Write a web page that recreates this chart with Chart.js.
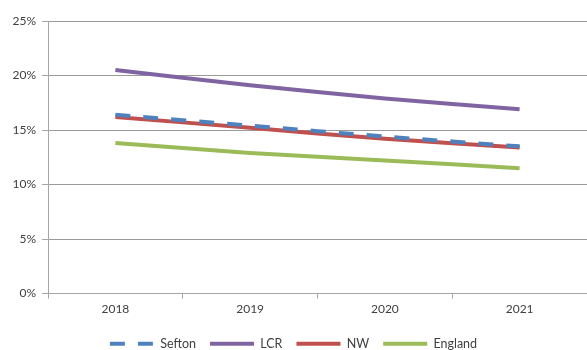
<!DOCTYPE html>
<html>
<head>
<meta charset="utf-8">
<script src="https://cdn.jsdelivr.net/npm/chart.js@4/dist/chart.umd.min.js"></script>
<style>
  html, body { margin: 0; padding: 0; background: #fff; overflow: hidden; }
  #wrap { width: 587px; height: 350px; position: relative; }
</style>
</head>
<body>
<div id="wrap"><canvas id="c" width="587" height="350"></canvas></div>
<script>
// Years on the x axis
const years = ['2018', '2019', '2020', '2021'];
// Share of population (%), by area
const sefton  = [16.4, 15.4, 14.4, 13.5];
const lcr     = [20.5, 19.1, 17.9, 16.9];
const nw      = [16.2, 15.2, 14.2, 13.4];
const england = [13.8, 12.9, 12.2, 11.5];
// Y axis range and step (%)
const yMin = 0, yMax = 25, yStep = 5;

const FONT = 'Lato, "Open Sans", "Liberation Sans", sans-serif';
const AXIS = '#a6a6a6';

function series(label, data, color, dash) {
  return {
    label, data,
    borderColor: color,
    backgroundColor: color,
    borderWidth: 4,
    borderDash: dash || [],
    borderCapStyle: 'butt',
    pointRadius: 0,
    pointHoverRadius: 0,
    tension: 0.3,
    fill: false
  };
}

new Chart(document.getElementById('c'), {
  type: 'line',
  data: {
    labels: years,
    datasets: [
      series('Sefton', sefton, '#4f81bd', [15, 13]),
      series('LCR', lcr, '#8064a2'),
      series('NW', nw, '#c0504d'),
      series('England', england, '#9bbb59')
    ]
  },
  options: {
    responsive: false,
    animation: false,
    devicePixelRatio: 1,
    layout: { padding: { top: 21, right: 0, left: 0, bottom: -10 } },
    plugins: {
      tooltip: { enabled: false },
      legend: {
        position: 'bottom',
        labels: {
          usePointStyle: true,
          pointStyle: 'line',
          pointStyleWidth: 44,
          boxHeight: 4,
          padding: 14,
          color: '#404040',
          font: { family: FONT, size: 12.5 },
          // keep each line's dash pattern in its legend sample
          generateLabels: chart => {
            const items = Chart.defaults.plugins.legend.labels.generateLabels(chart);
            items.forEach(it => {
              const ds = chart.data.datasets[it.datasetIndex];
              it.lineDash = ds.borderDash || [];
              it.lineWidth = ds.borderWidth;
              it.strokeStyle = ds.borderColor;
              it.lineCap = 'butt';
            });
            return items;
          }
        }
      }
    },
    scales: {
      x: {
        offset: true,
        afterFit: s => { s.height = 30; },
        grid: {
          offset: true,
          drawOnChartArea: false,
          drawTicks: true,
          tickLength: 5,
          tickColor: AXIS
        },
        border: { display: true, color: AXIS, width: 1 },
        ticks: {
          padding: 3,
          color: '#404040',
          font: { family: FONT, size: 12 },
          maxRotation: 0
        }
      },
      y: {
        min: yMin,
        max: yMax,
        afterFit: s => { s.width = 48; },
        grid: {
          color: '#9a9a9a',
          borderDash: [2, 2],
          tickLength: 6,
          tickColor: AXIS,
          tickBorderDash: []
        },
        border: { display: true, color: AXIS, width: 1, dash: [] },
        ticks: {
          stepSize: yStep,
          padding: 6,
          color: '#404040',
          font: { family: FONT, size: 12 },
          callback: v => v + '%'
        }
      }
    }
  }
});
</script>
</body>
</html>
